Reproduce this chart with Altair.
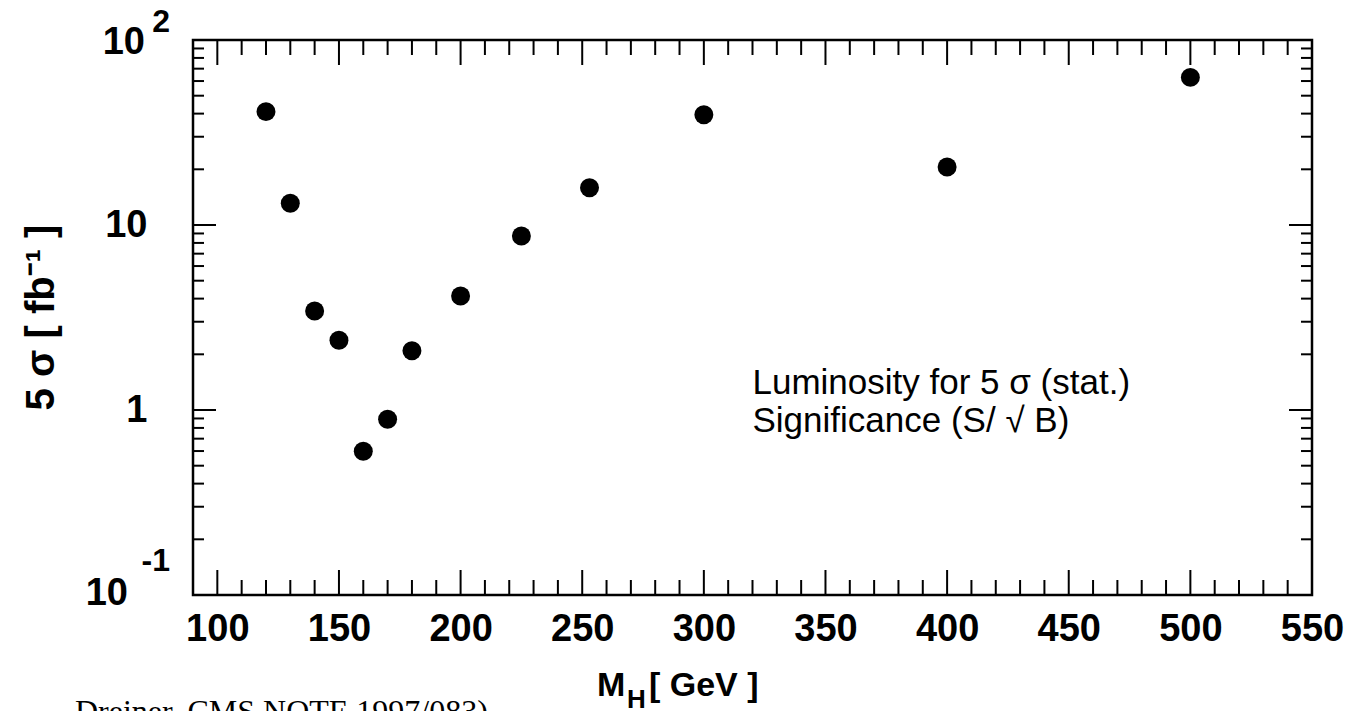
import altair as alt
import pandas as pd

# ---- data ----
mass = [120, 130, 140, 150, 160, 170, 180, 200, 225, 253, 300, 400, 500]
lumi = [41.0, 13.1, 3.43, 2.38, 0.598, 0.891, 2.09, 4.13, 8.72, 15.9, 39.4, 20.6, 62.8]

x_major = [100, 150, 200, 250, 300, 350, 400, 450, 500]
x_minor = [v for v in range(100, 550, 10) if v % 50]
y_major = [1, 10]
y_minor = [round(k * 10 ** e, 3) for e in (-1, 0, 1) for k in range(2, 10)]
x_labels = [100, 150, 200, 250, 300, 350, 400, 450, 500, 550]

W, H = 1119, 555
FONT = "Liberation Sans, Arial, sans-serif"
SERIF = "Liberation Serif, Times New Roman, serif"

xs = alt.Scale(domain=[90, 550], nice=False, zero=False)
ys = alt.Scale(type="log", domain=[0.1, 100], nice=False)

xaxis = alt.Axis(values=x_labels, ticks=False, tickSize=0, domain=False, grid=False,
                 labelFont=FONT, labelFontSize=38, labelFontWeight="bold", labelColor="black",
                 labelPadding=15, labelFlush=False, title=None, format="d")
yaxis = alt.Axis(values=y_major, ticks=False, tickSize=0, domain=False, grid=False,
                 labelFont=FONT, labelFontSize=38, labelFontWeight="bold", labelColor="black",
                 labelPadding=46, labelFlush=False, title=None, format="~g")

pts = alt.Chart(pd.DataFrame({"m": mass, "l": lumi})).mark_point(
    shape="circle", size=360, filled=True, color="black", opacity=1
).encode(
    x=alt.X("m:Q", scale=xs, axis=xaxis),
    y=alt.Y("l:Q", scale=ys, axis=yaxis),
)


def xticks(vals, length):
    d = pd.DataFrame({"v": vals})
    base = alt.Chart(d).mark_rule(color="black", strokeWidth=2)
    b = base.encode(x=alt.X("v:Q", scale=xs, axis=xaxis), y=alt.value(H), y2=alt.value(H - length))
    t = base.encode(x=alt.X("v:Q", scale=xs, axis=xaxis), y=alt.value(0), y2=alt.value(length))
    return [b, t]


def yticks(vals, length):
    d = pd.DataFrame({"v": vals})
    base = alt.Chart(d).mark_rule(color="black", strokeWidth=2)
    l = base.encode(y=alt.Y("v:Q", scale=ys, axis=yaxis), x=alt.value(0), x2=alt.value(length))
    r = base.encode(y=alt.Y("v:Q", scale=ys, axis=yaxis), x=alt.value(W), x2=alt.value(W - length))
    return [l, r]


layers = []
layers += xticks(x_major, 25)
layers += xticks(x_minor, 15)
layers += yticks(y_major, 23)
layers += yticks(y_minor, 11)


# y labels with exponents: 10^2 and 10^-1
def ylab(val, text, xpix, size, dy):
    return alt.Chart(pd.DataFrame({"v": [val], "t": [text]})).mark_text(
        font=FONT, fontSize=size, fontWeight="bold", align="right", baseline="middle", dy=dy, color="black"
    ).encode(y=alt.Y("v:Q", scale=ys, axis=yaxis), x=alt.value(xpix), text="t:N")


layers += [
    ylab(100, "10", -48, 38, 3),
    ylab(100, "2", -23, 32, -18),
    ylab(0.1, "10", -65, 38, -1),
    ylab(0.1, "-1", -23, 32, -34),
]


# annotation
def note(xv, yv, text, font=FONT, size=35):
    return alt.Chart(pd.DataFrame({"x": [xv], "y": [yv], "t": [text]})).mark_text(
        font=font, fontSize=size, align="left", baseline="alphabetic", color="black"
    ).encode(x=alt.X("x:Q", scale=xs, axis=xaxis), y=alt.Y("y:Q", scale=ys, axis=yaxis), text="t:N")


layers += [
    note(320, 1.22, "Luminosity for 5 \u03c3 (stat.)"),
    note(320, 0.76, "Significance (S/ \u221a B)"),
]


# axis titles and footnote
def ptext(xpix, ypix, text, size, font=FONT, angle=0, align="left", baseline="alphabetic", weight="normal"):
    return alt.Chart(pd.DataFrame({"t": [text]})).mark_text(
        font=font, fontSize=size, fontWeight=weight, align=align, baseline=baseline, angle=angle, color="black"
    ).encode(x=alt.value(xpix), y=alt.value(ypix), text="t:N")


layers += [
    ptext(404, 656, "M", 34, weight="bold"),
    ptext(434, 668, "H", 26, weight="bold"),
    ptext(456, 656, "[ GeV ]", 34, weight="bold"),
    ptext(-151, H / 2, "5 \u03c3 [ fb\u207b\u00b9 ]", 40, angle=270, align="center", baseline="middle", weight="bold"),
    ptext(-118, 682, "Dreiner, CMS NOTE 1997/083)", 32, font=SERIF),
]

layers.append(pts)

chart = alt.layer(*layers).properties(
    width=W, height=H,
    autosize=alt.AutoSizeParams(type="none"),
    padding={"left": 193, "top": 40, "right": 35, "bottom": 116},
    background="white",
).configure_view(stroke="black", strokeWidth=2.5)

chart.save("out.html", embed_options={"renderer": "svg", "actions": False})
